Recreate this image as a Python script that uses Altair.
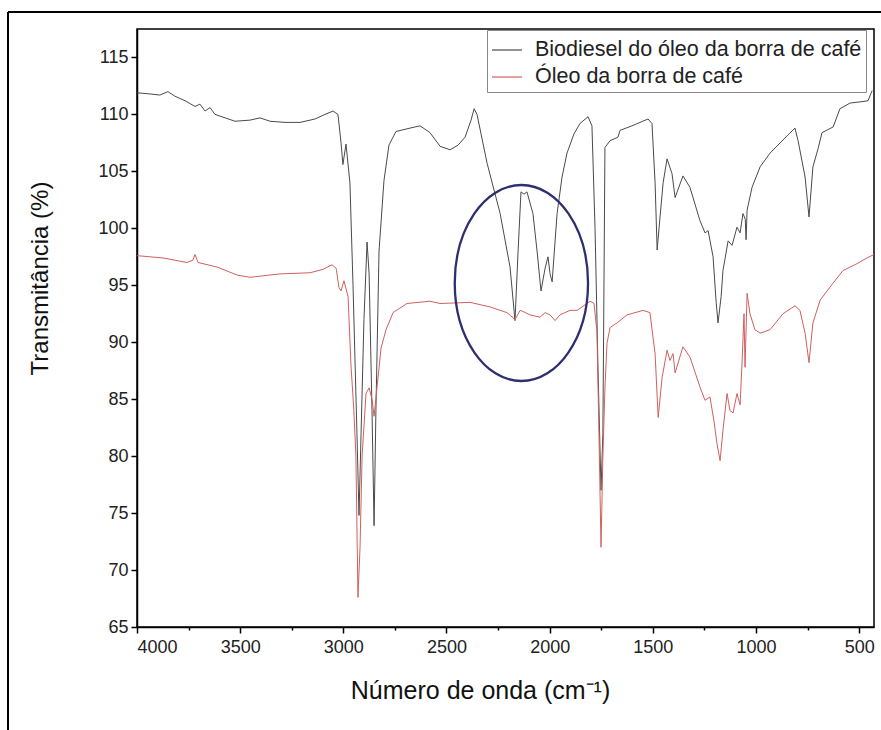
import altair as alt
import pandas as pd

# ---------------- data ----------------
bio_wn = [4000, 3937, 3889, 3850, 3816, 3767, 3719, 3695, 3670, 3646, 3622, 3573, 3525, 3452,
          3404, 3355, 3283, 3210, 3137, 3089, 3050, 3026, 3011, 3002, 2987, 2968, 2953, 2934,
          2924, 2914, 2900, 2885, 2875, 2861, 2851, 2842, 2827, 2803, 2779, 2745, 2677, 2628,
          2580, 2531, 2483, 2444, 2410, 2381, 2366, 2352, 2303, 2240, 2192, 2168, 2153, 2139,
          2124, 2110, 2081, 2061, 2042, 2022, 2008, 1998, 1988, 1964, 1940, 1916, 1882, 1853,
          1814, 1795, 1780, 1766, 1751, 1742, 1732, 1707, 1669, 1659, 1601, 1523, 1504, 1489,
          1479, 1465, 1450, 1431, 1407, 1392, 1354, 1320, 1272, 1247, 1232, 1208, 1193, 1184,
          1169, 1160, 1135, 1116, 1092, 1077, 1063, 1052, 1048, 1043, 1019, 980, 932, 883, 845,
          811, 796, 762, 743, 724, 699, 680, 626, 593, 544, 496, 457, 437]
bio_t = [111.9, 111.8, 111.7, 112.0, 111.6, 111.2, 110.7, 110.9, 110.3, 110.6, 110.0, 109.7, 109.4, 109.5,
         109.7, 109.4, 109.3, 109.3, 109.6, 110.0, 110.3, 110.0, 107.5, 105.6, 107.4, 104.0, 95.0, 82.0,
         74.8, 82.0, 92.0, 98.8, 96.0, 84.0, 73.9, 84.0, 98.0, 104.2, 107.3, 108.5, 108.8, 109.0,
         108.4, 107.2, 106.9, 107.3, 108.0, 109.5, 110.5, 110.0, 105.7, 101.3, 96.6, 91.9, 98.0, 103.2,
         103.0, 103.2, 101.3, 98.0, 94.5, 96.5, 97.5, 96.0, 95.3, 101.3, 104.5, 106.6, 108.3, 109.2,
         109.8, 109.0, 100.0, 88.0, 77.0, 82.0, 107.1, 107.7, 108.0, 108.6, 109.0, 109.6, 109.2, 104.0,
         98.1, 101.0, 104.0, 106.1, 104.8, 102.7, 104.6, 103.6, 100.7, 99.6, 99.8, 97.5, 93.5, 91.7,
         94.0, 96.3, 98.9, 98.5, 100.1, 99.6, 101.3, 100.8, 99.0, 101.6, 103.6, 105.4, 106.6, 107.5, 108.2,
         108.8, 107.7, 104.5, 101.0, 105.4, 107.0, 108.4, 108.9, 110.5, 111.0, 111.1, 111.2, 112.1]

oil_wn = [4000, 3874, 3758, 3729, 3719, 3704, 3612, 3515, 3452, 3307, 3161, 3098, 3055, 3035,
          3021, 3011, 2997, 2977, 2963, 2949, 2939, 2929, 2919, 2909, 2890, 2875, 2861, 2851,
          2837, 2817, 2793, 2759, 2692, 2580, 2531, 2386, 2289, 2207, 2168, 2143, 2129, 2095,
          2047, 2022, 1998, 1974, 1950, 1901, 1867, 1804, 1785, 1771, 1761, 1751, 1742, 1732,
          1722, 1707, 1673, 1625, 1547, 1514, 1489, 1474, 1455, 1431, 1417, 1402, 1392, 1354,
          1320, 1272, 1247, 1223, 1203, 1189, 1174, 1160, 1140, 1126, 1111, 1092, 1077, 1068,
          1058, 1053, 1043, 1029, 1005, 980, 932, 869, 811, 787, 762, 743, 724, 689, 626, 578,
          510, 462, 428]
oil_t = [97.6, 97.4, 97.0, 97.2, 97.7, 97.0, 96.6, 95.9, 95.7, 96.0, 96.1, 96.4, 96.8, 96.5,
         94.8, 94.5, 95.4, 94.0, 88.0, 84.0, 80.0, 67.6, 72.0, 80.0, 85.5, 86.0, 85.0, 83.5,
         86.0, 89.5, 91.1, 92.6, 93.4, 93.6, 93.4, 93.5, 93.1, 92.6, 92.0, 92.8, 92.7, 92.4,
         92.2, 92.6, 92.4, 91.9, 92.4, 92.8, 92.8, 93.6, 93.4, 91.0, 82.0, 72.0, 80.0, 86.0,
         89.9, 91.3, 91.7, 92.4, 92.8, 92.6, 89.0, 83.4, 86.9, 89.3, 88.4, 89.0, 87.3, 89.6,
         88.7, 86.1, 84.9, 85.2, 83.0, 81.1, 79.6, 82.3, 85.5, 84.0, 83.8, 85.5, 84.5, 88.0,
         92.5, 87.8, 94.3, 92.5, 91.1, 90.8, 91.1, 92.5, 93.2, 92.8, 90.8, 88.2, 91.7, 93.7, 95.2, 96.3,
         96.9, 97.4, 97.7]

series_names = ["Biodiesel do óleo da borra de café", "Óleo da borra de café"]
series_colors = ["#4a4a4a", "#d0605e"]

# highlighted region (ellipse annotation): centre wavenumber / transmittance
ellipse_wn = [2137]
ellipse_t = [95.2]

x_ticks = list(range(500, 4001, 250))
y_ticks = [65 + 2.5 * i for i in range(22)]

# ---------------- tables ----------------
df = pd.concat([
    pd.DataFrame({"wn": bio_wn, "t": bio_t, "serie": series_names[0]}),
    pd.DataFrame({"wn": oil_wn, "t": oil_t, "serie": series_names[1]}),
], ignore_index=True)
df_ell = pd.DataFrame({"wn": ellipse_wn, "t": ellipse_t})

FONT = "Liberation Sans"

x_scale = alt.Scale(domain=[4000, 428], nice=False, zero=False)
y_scale = alt.Scale(domain=[65, 117.5], nice=False, zero=False)

x_axis = alt.Axis(
    title="Número de onda (cm⁻¹)", values=x_ticks, format="d",
    labelExpr="datum.value % 500 == 0 ? datum.label : ''",
    tickSize={"condition": {"test": "datum.value % 500 == 0", "value": 6}, "value": 3},
    labelFontSize=18, labelFont=FONT, labelColor="#222", labelPadding=5, labelOverlap=False,
    titleFontSize=25, titleFont=FONT, titleFontWeight="normal", titleColor="#111",
    titleX=343, titleY=63, titleBaseline="middle", titleAlign="center",
    grid=False, domainColor="black", domainWidth=1.5, tickColor="black", tickWidth=1.5,
)
y_axis = alt.Axis(
    title="Transmitância (%)", values=y_ticks,
    labelExpr="datum.value % 5 == 0 ? datum.label : ''",
    tickSize={"condition": {"test": "datum.value % 5 == 0", "value": 6}, "value": 3},
    labelFontSize=18, labelFont=FONT, labelColor="#222", labelPadding=3, labelOverlap=False,
    titleFontSize=24, titleFont=FONT, titleFontWeight="normal", titleColor="#111",
    titleX=-97, titleY=249, titleAngle=270, titleBaseline="middle", titleAlign="center",
    grid=False, domainColor="black", domainWidth=1.5, tickColor="black", tickWidth=1.5,
)

lines = alt.Chart(df).mark_line(strokeWidth=1.0).encode(
    x=alt.X("wn:Q", scale=x_scale, axis=x_axis),
    y=alt.Y("t:Q", scale=y_scale, axis=y_axis),
    color=alt.Color(
        "serie:N",
        scale=alt.Scale(domain=series_names, range=series_colors),
        legend=alt.Legend(
            title=None, orient="none", legendX=350, legendY=1,
            labelFont=FONT, labelFontSize=21.5, labelColor="#222", labelLimit=600,
            symbolType="stroke", symbolSize=900, symbolStrokeWidth=1.2,
            strokeColor="#888", fillColor="white", padding=4, rowPadding=-2,
            symbolOffset=0, labelOffset=12,
        ),
    ),
    detail="serie:N",
)

ellipse_shape = ("M 0.68 0 C 0.68 0.5523 0.3756 1 0 1 C -0.3756 1 -0.68 0.5523 -0.68 0 "
                 "C -0.68 -0.5523 -0.3756 -1 0 -1 C 0.3756 -1 0.68 -0.5523 0.68 0 Z")
ellipse = alt.Chart(df_ell).mark_point(
    shape=ellipse_shape, size=38416, filled=False, stroke="#2e2f6e", strokeWidth=2.3, opacity=1
).encode(
    x=alt.X("wn:Q", scale=x_scale),
    y=alt.Y("t:Q", scale=y_scale),
)

# decorative outer frame of the figure (top and left edges)
frame_top = alt.Chart(df_ell).mark_rule(color="black", strokeWidth=2).encode(
    x=alt.value(-129), x2=alt.value(760), y=alt.value(-17)
)
frame_left = alt.Chart(df_ell).mark_rule(color="black", strokeWidth=2).encode(
    x=alt.value(-129), y=alt.value(-17), y2=alt.value(720)
)

chart = alt.layer(lines, ellipse, frame_top, frame_left).properties(
    width=737, height=598,
    autosize=alt.AutoSizeParams(type="none"),
    padding={"left": 137, "top": 29, "right": 7, "bottom": 103},
    background="white",
).configure_view(stroke="black", strokeWidth=1.5)

chart.save("out.html", embed_options={"renderer": "svg", "actions": False})
